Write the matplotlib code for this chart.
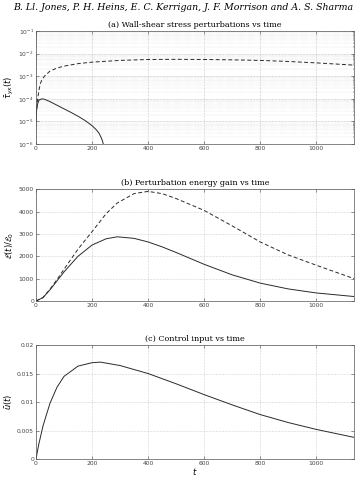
import numpy as np
import matplotlib
matplotlib.use('Agg')
import matplotlib.pyplot as plt
from matplotlib.ticker import LogLocator, NullFormatter

# (a) wall-shear stress perturbations
t_a_dash = [0, 2, 5, 10, 15, 20, 30, 50, 75, 100, 150, 200, 300, 400, 500, 600, 700, 800, 900, 1000, 1135]
tau_dash = [1e-5, 3e-5, 8e-5, 2.2e-4, 4.5e-4, 6.5e-4, 1.0e-3, 1.7e-3, 2.3e-3, 2.8e-3, 3.6e-3, 4.2e-3,
            5.0e-3, 5.5e-3, 5.6e-3, 5.5e-3, 5.3e-3, 5.0e-3, 4.5e-3, 3.9e-3, 3.1e-3]
t_a_solid = [0, 1, 2, 5, 10, 20, 30, 50, 75, 100, 125, 150, 175, 200, 215, 225, 232, 237, 240]
tau_solid = [1e-5, 1.8e-5, 3e-5, 5.5e-5, 8.5e-5, 1.0e-4, 9.6e-5, 7.5e-5, 5.2e-5, 3.6e-5, 2.5e-5, 1.7e-5,
             1.1e-5, 6.5e-6, 4.3e-6, 3.0e-6, 2.0e-6, 1.4e-6, 1.0e-6]

# (b) perturbation energy gain
t_b = [0, 25, 50, 75, 100, 150, 200, 250, 290, 350, 400, 450, 500, 600, 700, 800, 900, 1000, 1135]
gain_solid = [0, 150, 500, 900, 1300, 2000, 2500, 2780, 2870, 2800, 2640, 2420, 2170, 1640, 1170, 800, 540, 360, 200]
gain_dash = [0, 160, 530, 960, 1420, 2320, 3100, 3900, 4380, 4800, 4900, 4800, 4580, 4050, 3360, 2640, 2060, 1600, 1000]

# (c) control input
t_c = [0, 5, 10, 25, 50, 75, 100, 150, 200, 230, 300, 400, 500, 600, 700, 800, 900, 1000, 1135]
u_c = [0, 0.0013, 0.0026, 0.0058, 0.0098, 0.0126, 0.0145, 0.0163, 0.0169, 0.0170, 0.0164, 0.0150,
       0.0132, 0.0113, 0.0095, 0.0078, 0.0064, 0.0052, 0.0038]

x_max = 1135
line_col = '#2a2a2a'
tick_fs = 4.3
title_font = dict(family='DejaVu Serif', fontsize=5.8)

fig = plt.figure(figsize=(3.61, 4.78), dpi=100)

fig.text(0.036, 0.985, 'B. Ll. Jones, P. H. Heins, E. C. Kerrigan, J. F. Morrison and A. S. Sharma',
         fontsize=6.75, family='DejaVu Serif', style='italic', ha='left', va='center')


def style_axes(ax):
    for s in ax.spines.values():
        s.set_color('#555555')
        s.set_linewidth(0.5)
    ax.tick_params(labelsize=tick_fs, colors='#444444', length=2, width=0.4, direction='in',
                   top=True, right=True, pad=1.5)
    ax.set_xlim(0, x_max)
    ax.set_xticks([0, 200, 400, 600, 800, 1000])


# panel (a)
ax1 = fig.add_axes([0.0997, 0.6987, 0.881, 0.2364])
ax1.semilogy(t_a_dash, tau_dash, '--', color=line_col, lw=0.7, dashes=(4, 2.5))
ax1.semilogy(t_a_solid, tau_solid, '-', color=line_col, lw=0.7)
ax1.set_ylim(1e-6, 1e-1)
style_axes(ax1)
ax1.yaxis.set_major_locator(LogLocator(base=10, numticks=10))
ax1.yaxis.set_minor_locator(LogLocator(base=10, subs=np.arange(2, 10), numticks=20))
ax1.yaxis.set_minor_formatter(NullFormatter())
ax1.tick_params(which='minor', length=1, width=0.3, direction='in', right=True)
ax1.grid(True, which='major', ls=':', lw=0.4, color='#999999')
ax1.grid(True, which='minor', axis='y', ls=':', lw=0.3, color='#c4c4c4')
ax1.set_ylabel(r'$\bar{\tau}_{yx}(t)$', fontsize=6, labelpad=2)
ax1.set_title('(a) Wall-shear stress perturbations vs time', pad=3, **title_font)

# panel (b)
ax2 = fig.add_axes([0.0997, 0.3703, 0.881, 0.234])
ax2.plot(t_b, gain_dash, '--', color=line_col, lw=0.7, dashes=(4, 2.5))
ax2.plot(t_b, gain_solid, '-', color=line_col, lw=0.7)
ax2.set_ylim(0, 5000)
ax2.set_yticks([0, 1000, 2000, 3000, 4000, 5000])
style_axes(ax2)
ax2.grid(True, ls=':', lw=0.4, color='#aaaaaa')
ax2.set_ylabel(r'$\mathcal{E}(t)/\mathcal{E}_0$', fontsize=6, labelpad=2)
ax2.set_title('(b) Perturbation energy gain vs time', pad=3, **title_font)

# panel (c)
ax3 = fig.add_axes([0.0997, 0.0397, 0.881, 0.2385])
ax3.plot(t_c, u_c, '-', color=line_col, lw=0.7)
ax3.set_ylim(0, 0.02)
ax3.set_yticks([0, 0.005, 0.01, 0.015, 0.02])
ax3.set_yticklabels(['0', '0.005', '0.01', '0.015', '0.02'])
style_axes(ax3)
ax3.grid(True, ls=':', lw=0.4, color='#aaaaaa')
ax3.set_ylabel(r'$\bar{u}(t)$', fontsize=6, labelpad=2)
ax3.set_xlabel(r'$t$', fontsize=6, labelpad=0)
ax3.set_title('(c) Control input vs time', pad=3, **title_font)

fig.savefig('out.png', dpi=100)
